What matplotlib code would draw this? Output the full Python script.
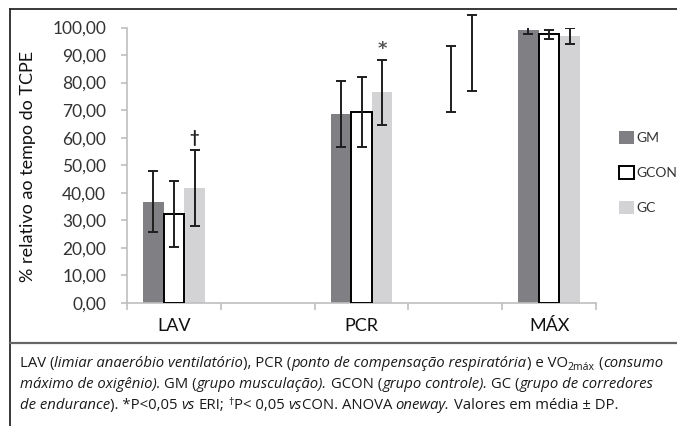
import numpy as np
import matplotlib
matplotlib.use("Agg")
import matplotlib.pyplot as plt
from matplotlib.patches import Patch
from matplotlib.lines import Line2D
from matplotlib.ticker import FuncFormatter, FixedLocator

plt.rcParams['font.family'] = ['Lato', 'DejaVu Sans']

# data (% of TCPE time, mean and SD)
categories = ["LAV", "", "PCR", "", "MÁX"]
groups = ["GM", "GCON", "GC"]
cat_idx = [0, 2, 4]
gm_mean = [36.8, 68.7, 99.0]
gm_sd = [11.0, 11.9, 1.5]
gcon_mean = [32.2, 69.4, 97.5]
gcon_sd = [12.0, 12.7, 1.6]
gc_mean = [41.8, 76.5, 97.0]
gc_sd = [13.7, 11.8, 2.9]
# stray error bars left in the empty 4th slot
stray_mean = [81.2, 90.6]
stray_sd = [12.0, 13.8]
# significance marks over GC (LAV, PCR)
marks = ["\u2020", "*"]

W, H = 677, 426
fig = plt.figure(figsize=(W / 100, H / 100), dpi=100)
ax = fig.add_axes([127 / W, 1 - 303 / H, (596 - 127) / W, (303 - 27.5) / H])

bw = 0.22
x = np.array(cat_idx, dtype=float)
ekw = dict(fmt="none", ecolor="#1e1e1e", elinewidth=1.4, capsize=3.6, capthick=1.4, zorder=4)

ax.bar(x - bw, gm_mean, bw, color="#7f7f84", zorder=2)
ax.bar(x, gcon_mean, bw, color="white", edgecolor="black", linewidth=1.4, zorder=3)
ax.bar(x + bw, gc_mean, bw, color="#d3d3d5", zorder=2)
ax.errorbar(x - bw, gm_mean, yerr=gm_sd, **ekw)
ax.errorbar(x, gcon_mean, yerr=gcon_sd, **ekw)
ax.errorbar(x + bw, gc_mean, yerr=gc_sd, **ekw)

eb = ax.errorbar(np.array([3 - 0.05, 3 + 0.18]), stray_mean, yerr=stray_sd, **ekw)
for art in eb.lines[1] + eb.lines[2]:
    art.set_clip_on(False)

# marks over GC bars
for i, m in enumerate(marks):
    top = gc_mean[i] + gc_sd[i]
    if m == "*":
        ax.text(x[i] + bw, top + 3.8, m, ha="center", va="center", fontsize=13,
                color="#555555", fontweight="bold", family="DejaVu Sans")
    else:
        ax.text(x[i] + bw, top + 4.5, m, ha="center", va="center", fontsize=12,
                color="#1e1e1e", fontweight="bold")

ax.set_xlim(-0.5, len(categories) - 0.5)
ax.set_ylim(0, 100)
ax.set_yticks(np.arange(0, 101, 10))
ax.yaxis.set_major_formatter(FuncFormatter(lambda v, p: f"{v:.2f}".replace(".", ",")))
ax.set_xticks(cat_idx)
ax.set_xticklabels([categories[i] for i in cat_idx])
ax.xaxis.set_minor_locator(FixedLocator(np.arange(-0.5, len(categories), 1.0)))

for s in ["top", "right"]:
    ax.spines[s].set_visible(False)
for s in ["left", "bottom"]:
    ax.spines[s].set_color("#bfbfbf")
    ax.spines[s].set_linewidth(1.2)
ax.tick_params(axis="y", colors="#bfbfbf", length=4, width=1.2, pad=11,
               labelcolor="#333333", labelsize=12.5)
ax.tick_params(axis="x", which="major", length=0, pad=11, labelsize=13, labelcolor="#111111")
ax.tick_params(axis="x", which="minor", length=5, width=1.2, colors="#bfbfbf")

fig.text(28 / W, 1 - 166 / H, "% relativo ao tempo do TCPE", rotation=90,
         ha="center", va="center", fontsize=13, color="#111111")

handles = [Patch(facecolor="#7f7f84", edgecolor="none"),
           Patch(facecolor="white", edgecolor="black", linewidth=1.4),
           Patch(facecolor="#d3d3d5", edgecolor="none")]
ax.legend(handles, groups, loc="upper left", bbox_to_anchor=(619 / W, 1 - 131 / H),
          bbox_transform=fig.transFigure, frameon=False, fontsize=10,
          handlelength=1.1, handleheight=1.1, handletextpad=0.15,
          labelspacing=1.55, borderpad=0, borderaxespad=0, labelcolor="#333333")

# frame around the figure
lk = dict(color="#2a2a2a", linewidth=1.3, transform=fig.transFigure)
fig.add_artist(Line2D([10 / W, 1], [1 - 9 / H, 1 - 9 / H], **lk))
fig.add_artist(Line2D([10 / W, 10 / W], [0, 1 - 9 / H], **lk))
fig.add_artist(Line2D([10 / W, 1], [1 - 343 / H, 1 - 343 / H], color="#666666",
                      linewidth=1.6, transform=fig.transFigure))

# caption with mixed italic / upright text
renderer = fig.canvas.get_renderer()
cap_size = 10.75
cap_font = ["Open Sans", "DejaVu Sans"]


def seg_width(s, style):
    kw = dict(fontsize=cap_size * (0.7 if style in ("sub", "sup") else 1.0),
              fontstyle="italic" if style == "i" else "normal", family=cap_font)
    a = fig.text(0, 0, "x" + s + "x", **kw)
    b = fig.text(0, 0, "xx", **kw)
    w = a.get_window_extent(renderer).width - b.get_window_extent(renderer).width
    a.remove()
    b.remove()
    return w


def draw_line(x0, y0, segs):
    xp = x0
    for s, style in segs:
        lead = len(s) - len(s.lstrip(" "))
        xs = xp + (seg_width(" " * lead, style) if lead else 0)
        size = cap_size * (0.7 if style in ("sub", "sup") else 1.0)
        dy = -3 if style == "sub" else (4 if style == "sup" else 0)
        fig.text(xs / W, 1 - (y0 - dy) / H, s.strip(" "), fontsize=size,
                 fontstyle="italic" if style == "i" else "normal", family=cap_font,
                 ha="left", va="baseline", color="#1a1a1a")
        xp += seg_width(s, style)


caption = [
    [("LAV (", "n"), ("limiar anaeróbio ventilatório", "i"), ("), PCR (", "n"),
     ("ponto de compensação respiratória", "i"), (") e VO", "n"), ("2máx", "sub"),
     (" (", "n"), ("consumo", "i")],
    [("máximo de oxigênio).", "i"), (" GM (", "n"), ("grupo musculação).", "i"),
     (" GCON (", "n"), ("grupo controle).", "i"), (" GC (", "n"),
     ("grupo de corredores", "i")],
    [("de endurance", "i"), ("). *P<0,05 ", "n"), ("vs", "i"), (" ERI; ", "n"),
     ("\u2020", "sup"), ("P< 0,05 ", "n"), ("vs", "i"), ("CON. ANOVA ", "n"),
     ("oneway.", "i"), (" Valores em média ± DP.", "n")],
]
for k, segs in enumerate(caption):
    draw_line(20, 367 + k * 21, segs)

fig.savefig("out.png", dpi=100)
